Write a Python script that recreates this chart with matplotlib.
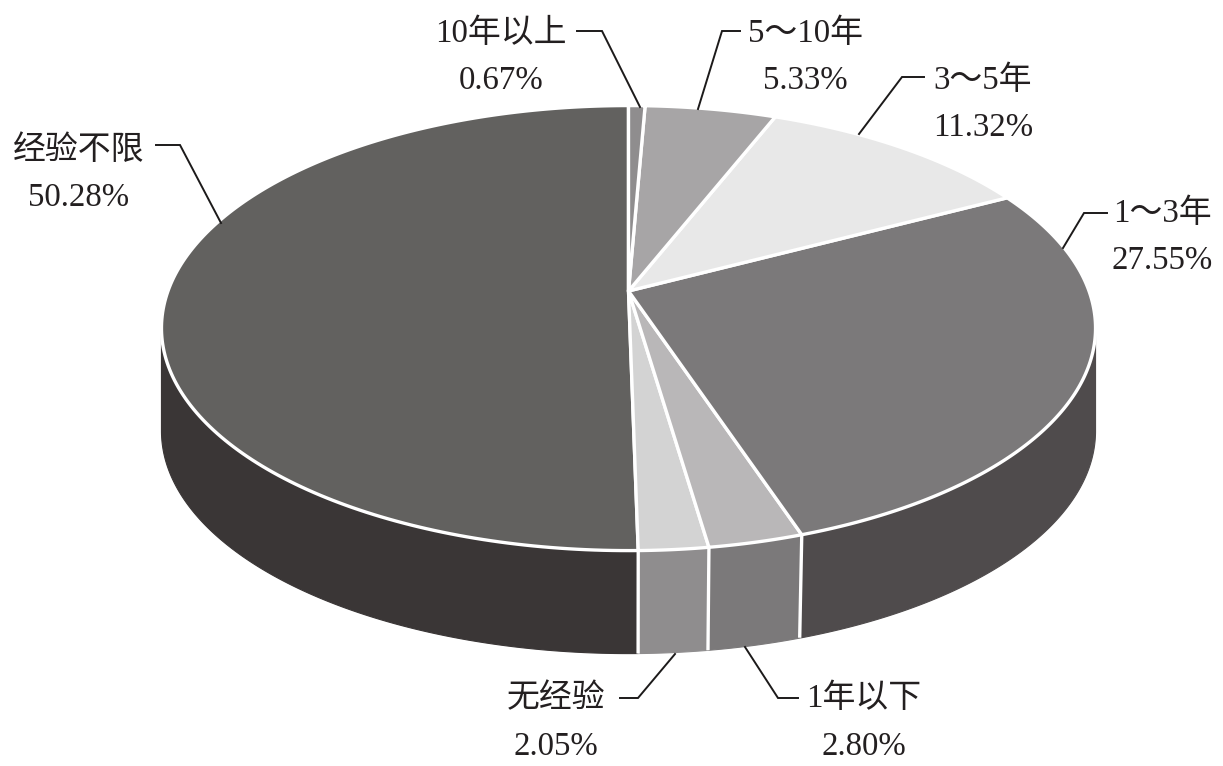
import numpy as np
import matplotlib
matplotlib.use("Agg")
import matplotlib.pyplot as plt
from matplotlib.patches import Polygon

plt.rcParams['font.family'] = ['Liberation Serif', 'Noto Sans CJK SC']

# slices, counter-clockwise from the top of the disc
categories = ['经验不限', '无经验', '1年以下', '1～3年', '3～5年', '5～10年', '10年以上']
shares = [50.28, 2.05, 2.80, 27.55, 11.32, 5.33, 0.67]
top_colors = ['#62615f', '#d3d3d3', '#b9b7b8', '#7b797a', '#e8e8e8', '#a7a5a6', '#8f8d8e']
side_colors = ['#3a3636', '#8f8d8e', '#7b797a', '#4f4b4c', '#4f4b4c', '#4f4b4c', '#4f4b4c']

# label centres and leader lines, in pixels
name_pos = [(79, 151), (556, 699), (864, 699), (1162, 214), (983, 81), (805, 34), (501, 34)]
pct_pos = [(79, 197), (556, 746), (864, 746), (1162, 260), (983, 127), (805, 80), (501, 80)]
leaders = [
    [(156, 145), (180, 145), (221, 223)],
    [(620, 698), (638, 698), (675, 654)],
    [(798, 698), (778, 698), (745, 647)],
    [(1107, 213), (1084, 213), (1063, 248)],
    [(924, 77), (902, 77), (859, 134)],
    [(740, 31), (722, 31), (698, 109)],
    [(577, 31), (602, 31), (640, 107)],
]

# perspective disc: centre of the ellipse, lens strength, thickness
cx, cy = 628.5, 328
half_w, half_h, apex_up, k = 460.5, 222.5, 37, 1 / 6
depth = 103


def project(theta):
    # theta measured counter-clockwise from the far point of the circle
    u = -np.sin(theta)
    v = np.cos(theta)
    w = 1 + k * v
    return np.column_stack([cx + half_w * u / w, cy - (half_h * v + apex_up) / w])


fig = plt.figure(figsize=(12.23, 7.66), dpi=100)
ax = fig.add_axes([0, 0, 1, 1])
ax.set_xlim(0, 1223)
ax.set_ylim(766, 0)
ax.axis('off')

edges = np.cumsum([0] + shares) / 100 * 2 * np.pi
apex = np.array([[cx, cy - apex_up]])

# only the near part of the rim has a visible side wall
left_end = np.arccos(-k)
right_end = 2 * np.pi - left_end
for i in range(len(shares)):
    a = max(edges[i], left_end)
    b = min(edges[i + 1], right_end)
    if a >= b:
        continue
    rim = project(np.linspace(a, b, 200))
    low = rim + [0, depth]
    ax.add_patch(Polygon(np.vstack([rim, low[::-1]]), closed=True, fc=side_colors[i],
                         ec=side_colors[i], lw=0.8, zorder=1))

# white seams on the visible side
for a in edges[1:4]:
    p = project(np.array([a]))[0]
    ax.plot([p[0], p[0] - (p[0] - cx) * 0.012], [p[1], p[1] + depth], color='white', lw=2.4,
            zorder=2, solid_capstyle='butt')

for i in range(len(shares)):
    th = np.linspace(edges[i], edges[i + 1], 200)
    ax.add_patch(Polygon(np.vstack([apex, project(th)]), closed=True, fc=top_colors[i],
                         ec='white', lw=2.4, joinstyle='round', zorder=3))

for i, name in enumerate(categories):
    pts = np.array(leaders[i])
    ax.plot(pts[:, 0], pts[:, 1], color='#1c1a1a', lw=1.4, zorder=4, solid_joinstyle='miter')
    ax.text(name_pos[i][0], name_pos[i][1], name, ha='center', va='center',
            fontsize=23.7, color='#231f20')
    ax.text(pct_pos[i][0], pct_pos[i][1] + 1, f'{shares[i]:.2f}%', ha='center', va='center',
            fontsize=23.7, color='#231f20')

fig.savefig('out.png', dpi=100, facecolor='white')
